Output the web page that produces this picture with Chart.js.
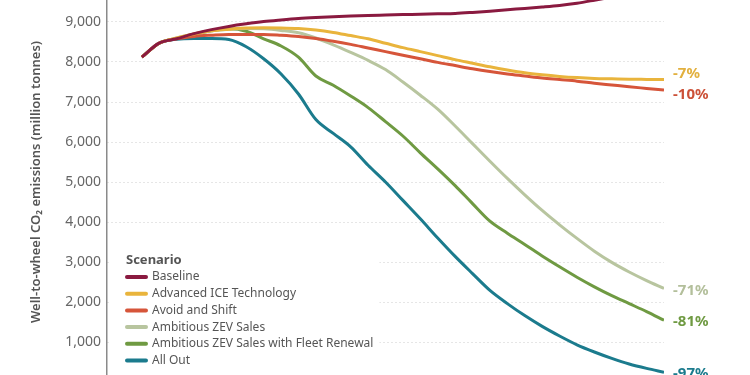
<!DOCTYPE html>
<html>
<head>
<meta charset="utf-8">
<script src="https://cdn.jsdelivr.net/npm/chart.js@4/dist/chart.umd.min.js"></script>
<style>
html,body{margin:0;padding:0;background:#fff;overflow:hidden;width:750px;height:375px;}
#wrap{position:absolute;left:0;top:-40px;width:750px;height:470px;}
</style>
</head>
<body>
<div id="wrap"><canvas id="c"></canvas></div>
<script>
const years = [2020,2021,2022,2023,2024,2025,2026,2027,2028,2029,2030,2031,2032,2033,2034,2035,2036,2037,2038,2039,2040,2041,2042,2043,2044,2045,2046,2047,2048,2049,2050];
const seriesNames = ["Baseline","Advanced ICE Technology","Avoid and Shift","Ambitious ZEV Sales","Ambitious ZEV Sales with Fleet Renewal","All Out"];
const baseline     = [8120,8470,8580,8710,8810,8890,8955,9010,9050,9085,9110,9130,9150,9165,9175,9185,9195,9205,9215,9240,9270,9305,9340,9375,9415,9470,9545,9625,9710,9800,9890];
const advancedICE  = [8120,8470,8600,8700,8780,8820,8850,8855,8850,8835,8800,8740,8660,8580,8470,8360,8260,8160,8060,7970,7880,7800,7730,7680,7640,7610,7590,7580,7570,7565,7560];
const avoidShift   = [8120,8470,8580,8640,8670,8690,8690,8690,8670,8640,8590,8520,8440,8350,8260,8170,8080,7990,7910,7830,7760,7700,7650,7600,7560,7520,7470,7425,7380,7340,7300];
const zevSales     = [8120,8470,8600,8700,8780,8820,8840,8830,8790,8730,8600,8430,8240,8040,7810,7500,7170,6820,6400,5960,5520,5090,4680,4290,3930,3590,3270,2990,2750,2535,2340];
const fleetRenewal = [8120,8470,8590,8690,8780,8830,8770,8580,8400,8120,7650,7420,7150,6860,6510,6150,5730,5330,4910,4460,4020,3720,3440,3150,2880,2620,2380,2160,1960,1760,1545];
const allOut       = [8120,8470,8570,8585,8585,8560,8380,8080,7700,7200,6560,6215,5880,5420,5000,4540,4080,3600,3140,2710,2290,1960,1660,1390,1150,930,750,590,450,340,245];
const yTicks = [0,1000,2000,3000,4000,5000,6000,7000,8000,9000,10000];

const seriesValues = [baseline, advancedICE, avoidShift, zevSales, fleetRenewal, allOut];
const lineColors  = ["#8a1a40","#e9b43c","#d6553a","#b8c59f","#6f9a42","#1b7b8d"];
const labelColors = ["#8a1a40","#e2b03e","#cc5138","#b3bf9b","#6f9a42","#1b7b8d"];
const labelDy = [0,-6,5,2,2,2];
const FONT = "'Noto Sans', sans-serif";
const OFF = 40; // page offset of canvas

const datasets = seriesNames.map((name,i)=>({
  label: name,
  data: years.map((y,k)=>({x:y, y:seriesValues[i][k]})),
  borderColor: lineColors[i],
  backgroundColor: lineColors[i],
  borderWidth: 3,
  pointRadius: 0,
  cubicInterpolationMode: 'monotone',
  fill: false
}));

const overlay = {
  id:'overlay',
  beforeDatasetsDraw(chart){
    const ctx = chart.ctx;
    ctx.save();
    ctx.font = "12px " + FONT;
    let maxW = 0;
    chart.data.datasets.forEach(ds=>{ maxW = Math.max(maxW, ctx.measureText(ds.label).width); });
    ctx.fillStyle = '#fff';
    ctx.fillRect(110, 248+OFF, 152+maxW+6-110, 124);
    ctx.fillStyle = '#555';
    ctx.font = "bold 13px " + FONT;
    ctx.textBaseline = 'middle';
    ctx.textAlign = 'left';
    ctx.fillText('Scenario', 126, 260+OFF);
    ctx.font = "12px " + FONT;
    chart.data.datasets.forEach((ds,i)=>{
      const y = 277 + i*16.7 + OFF;
      ctx.strokeStyle = ds.borderColor;
      ctx.lineWidth = 4;
      ctx.lineCap = 'round';
      ctx.beginPath(); ctx.moveTo(127,y); ctx.lineTo(146,y); ctx.stroke();
      ctx.fillStyle = '#555';
      ctx.fillText(ds.label, 152, y);
    });
    ctx.restore();
  },
  afterDatasetsDraw(chart){
    const ctx = chart.ctx;
    ctx.save();
    ctx.font = "bold 15px " + FONT;
    ctx.textBaseline = 'middle';
    ctx.textAlign = 'left';
    chart.data.datasets.forEach((ds,i)=>{
      const vals = seriesValues[i];
      const pct = Math.round((vals[vals.length-1]/vals[0]-1)*100);
      const meta = chart.getDatasetMeta(i);
      const pt = meta.data[meta.data.length-1];
      ctx.fillStyle = labelColors[i];
      ctx.fillText((pct>0?'+':'')+pct+'%', chart.chartArea.right+9, pt.y+labelDy[i]);
    });
    ctx.restore();
  }
};

new Chart(document.getElementById('c'), {
  type:'line',
  data:{datasets},
  plugins:[overlay],
  options:{
    responsive:true,
    maintainAspectRatio:false,
    devicePixelRatio:1,
    animation:false,
    layout:{padding:{top:22,bottom:48,left:0,right:86}},
    plugins:{legend:{display:false},tooltip:{enabled:false}},
    scales:{
      x:{type:'linear',min:2018,max:2050,display:false},
      y:{
        min:0,max:10000,
        afterBuildTicks(s){ s.ticks = yTicks.map(v=>({value:v})); },
        afterFit(s){ s.width = 107; },
        ticks:{
          padding:6,
          color:'#666',
          font:{family:FONT,size:14},
          callback:v=>v.toLocaleString('en-US')
        },
        grid:{color:'#cccccc',lineWidth:1,drawTicks:false},
        border:{display:true,color:'#8a8a8a',width:1.5,dash:[1,3]},
        title:{
          display:true,
          text:'Well-to-wheel CO\u2082 emissions (million tonnes)',
          color:'#555',
          font:{family:FONT,size:13,weight:'600'},
          padding:{top:28,bottom:4}
        }
      }
    }
  }
});
</script>
</body>
</html>
